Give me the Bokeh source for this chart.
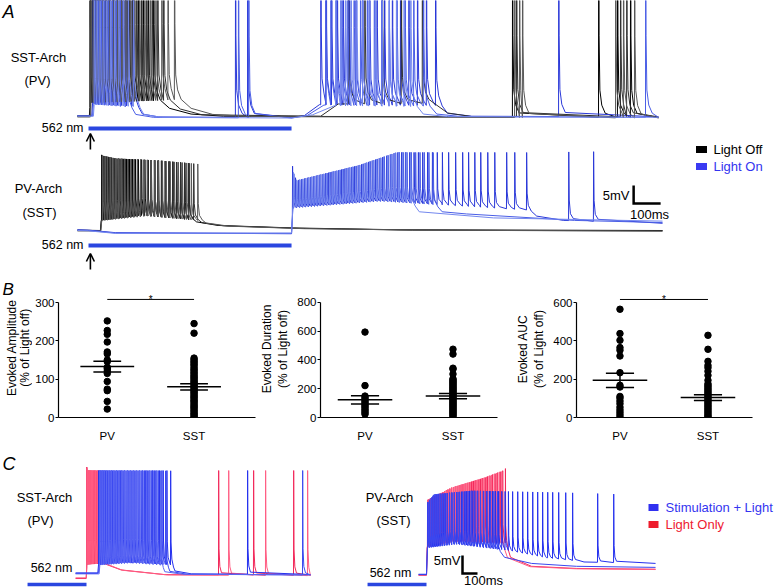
import numpy as np
from bokeh.plotting import figure
from bokeh.models import Range1d, Arrow, OpenHead, FixedTicker
from bokeh.layouts import column, row
from bokeh.embed import file_html
from bokeh.resources import INLINE
from bokeh.core.properties import value

FONT = "Liberation Sans"
BLACKS = ["#000000", "#2e2e2e", "#585858"]
BLUES = ["#2a38d8", "#4a5ee6", "#7387ee"]
CBLUES = ["#2430ee", "#3a48f0", "#5a66f2"]
CREDS = ["#f2285a", "#ff5c82"]
BAR = "#2a46e0"
TXT_BLUE = "#3434f0"
TXT_RED = "#ee2030"

# ---------------- panel A data (time in ms from light onset, Vm in mV) ----------------
A_LIGHT = [0, 752]
A_STIM = 7
A_T = [-41, 2111]

# SST-Arch (PV): light off (black) sweeps
top_off_spikes = [
    [5, 13, 22, 32, 43, 55, 67, 80, 93, 107, 121, 136, 151, 167, 184, 202, 221, 241,
     1570, 1889, 1959, 2007],
    [7, 16, 26, 37, 49, 61, 74, 87, 101, 115, 130, 145, 161, 178, 196, 215, 235, 256, 278,
     962, 1023, 1088, 1158, 1236, 1585, 1970, 1993],
    [9, 19, 30, 41, 53, 66, 79, 93, 107, 122, 138, 154, 171, 189, 208, 228, 249, 271, 294, 318,
     1578, 1596, 1607, 1952, 1981, 2022],
]
top_off_base_t = [
    [-41, 3, 6, 241, 300, 380, 500, 1560, 2111],
    [-41, 5, 8, 278, 340, 420, 860, 925, 1280, 1330, 1420, 2111],
    [-41, 7, 10, 318, 380, 460, 600, 2111],
]
top_off_base_v = [
    [-65.3, -65.3, -61.5, -60.9, -63.0, -64.6, -65.2, -65.4, -65.6],
    [-65.1, -65.1, -61.4, -60.8, -63.2, -64.8, -65.2, -61.8, -61.6, -64.3, -65.3, -65.4],
    [-65.4, -65.4, -61.6, -60.6, -63.0, -64.7, -65.3, -65.7],
]
# SST-Arch (PV): light on (blue) sweeps
top_on_spikes = [
    [15, 23, 32, 42, 53, 65, 78, 92, 107, 123, 141, 161, 544, 589,
     860, 880, 900, 921, 943, 966, 990, 1015, 1041, 1068, 1096, 1125, 1155, 1186, 1218, 1251, 1285, 1741],
    [18, 27, 37, 48, 60, 73, 87, 102, 118, 136, 555, 593,
     878, 897, 917, 938, 960, 983, 1007, 1032, 1058, 1085, 1113, 1142, 1172, 1204, 1240, 2063],
    [21, 31, 42, 54, 67, 81, 96, 112, 129, 147, 166,
     915, 933, 952, 972, 993, 1015, 1038, 1062, 1087, 1113, 1140, 1168, 1193],
]
top_on_base_t = [
    [-41, 12, 15, 161, 200, 260, 752, 800, 855, 1285, 1330, 1420, 2111],
    [-41, 15, 18, 136, 175, 240, 752, 810, 872, 1240, 1290, 1380, 2111],
    [-41, 18, 21, 166, 205, 270, 752, 830, 910, 1193, 1240, 1330, 2111],
]
top_on_base_v = [
    [-65.0, -65.0, -61.8, -62.4, -64.6, -65.4, -65.6, -65.0, -62.0, -62.2, -64.4, -65.2, -65.4],
    [-65.1, -65.1, -61.9, -62.6, -64.7, -65.5, -65.7, -65.0, -62.1, -62.4, -64.6, -65.3, -65.5],
    [-65.2, -65.2, -62.0, -62.5, -64.7, -65.5, -65.7, -64.8, -62.3, -62.5, -64.6, -65.3, -65.5],
]
top_peak_t = [-41, 2111]
top_peak_v = [10, 10]

# PV-Arch (SST): light off (black)
bot_T = [-41, 2126]
bot_off_spikes = [
    [48, 56, 64, 73, 82, 91, 100, 110, 120, 130, 140, 151, 162, 173, 184, 196, 208, 220, 232, 245,
     258, 271, 284, 298, 312, 326, 341, 356, 371],
    [50, 58, 67, 76, 85, 95, 105, 115, 125, 136, 147, 158, 169, 181, 193, 205, 217, 230, 243, 256,
     269, 283, 297, 311, 325, 340, 355, 371, 389],
    [52, 61, 70, 80, 90, 100, 111, 122, 133, 144, 156, 168, 180, 192, 205, 218, 231, 245, 259, 273,
     287, 302, 317, 332, 347, 363, 380, 404],
]
bot_off_base_t = [
    [-41, 44, 47, 200, 371, 400, 480, 760, 1150, 2126],
    [-41, 45, 48, 210, 389, 420, 500, 780, 1200, 2126],
    [-41, 46, 49, 220, 404, 435, 520, 800, 1250, 2126],
]
bot_off_base_v = [
    [-64.9, -65.0, -62.2, -60.8, -62.0, -62.6, -63.6, -64.3, -64.8, -65.0],
    [-65.1, -65.1, -62.2, -60.9, -62.1, -62.8, -63.7, -64.4, -64.9, -65.1],
    [-65.0, -65.0, -62.3, -61.0, -62.2, -62.9, -63.8, -64.5, -64.9, -65.2],
]
bot_off_peak_t = [44, 50, 100, 250, 404]
bot_off_peak_v = [-43.6, -44.2, -45.0, -45.5, -46.5]
# PV-Arch (SST): light on (blue)
bot_on_spikes = [
    [755, 766, 777, 788, 799, 810, 821, 832, 843, 854, 865, 877, 889, 901, 913, 925, 937, 949, 961,
     973, 985, 998, 1011, 1024, 1037, 1050, 1063, 1076, 1089, 1103, 1117, 1131, 1145, 1159, 1173,
     1189, 1205, 1221, 1237, 1255, 1273, 1291, 1310, 1333, 1359, 1385, 1407, 1430, 1452, 1478,
     1504, 1548, 1578, 1622, 1778, 1870],
    [760, 771, 782, 793, 804, 815, 826, 837, 848, 859, 871, 883, 895, 907, 919, 931, 943, 955, 967,
     979, 991, 1004, 1017, 1030, 1043, 1056, 1069, 1082, 1095, 1109, 1123, 1137, 1151, 1165, 1179,
     1195, 1211, 1227, 1243, 1260, 1276],
    [758, 769, 780, 791, 802, 813, 824, 835, 846, 857, 868, 880, 892, 904, 916, 928, 940, 952, 964,
     976, 988, 1001, 1014, 1027, 1040, 1053, 1066, 1079, 1092, 1106, 1120, 1134, 1148, 1162, 1176, 1192],
]
bot_on_base_t = [
    [-41, 0, 100, 752, 757, 1080, 1340, 1622, 1660, 1760, 2126],
    [-41, 0, 100, 752, 757, 1080, 1276, 1310, 1400, 1800, 2126],
    [-41, 0, 100, 752, 757, 1080, 1192, 1225, 1500, 2126],
]
bot_on_base_v = [
    [-64.8, -64.9, -65.6, -65.9, -58.6, -56.7, -58.0, -59.3, -61.0, -62.2, -63.0],
    [-64.9, -65.0, -65.7, -65.8, -58.8, -56.9, -57.8, -59.8, -60.4, -62.2, -62.8],
    [-65.0, -65.1, -65.8, -65.7, -58.5, -56.5, -57.2, -59.8, -61.5, -62.4],
]
bot_on_peak_t = [755, 770, 1000, 1140, 1622, 2000]
bot_on_peak_v = [-48.3, -51.1, -46.9, -43.3, -43.3, -43.0]
A_SCALEBAR = (2019, -57.5)   # corner of the 5 mV / 100 ms bar (bottom traces)

# ---------------- panel B data (% of light off) ----------------
groups = ["PV", "SST"]
amp_pv = [252, 227, 217, 197, 171, 166, 150, 146, 131, 127, 121, 115, 94, 74, 70, 42, 22]
amp_sst = [245, 220, 155, 151, 147, 143, 139, 135, 130, 126, 122, 118, 114, 110, 106, 103, 99, 95,
           92, 88, 85, 81, 78, 74, 71, 67, 64, 60, 56, 53, 49, 45, 42, 38, 34, 30, 27, 23, 19, 15,
           11, 8, 4, 1]
amp_mean = [133, 80]
amp_sem = [14, 8]
dur_pv = [594, 222, 149, 137, 126, 114, 103, 91, 80, 69, 57, 46, 34, 23]
dur_sst = [475, 441, 343, 336, 302, 270, 262, 254, 246, 238, 230, 222, 214, 206, 198, 190, 182,
           174, 166, 158, 150, 142, 134, 126, 118, 110, 102, 94, 86, 78, 70, 62, 54, 46, 38, 30,
           22, 14, 6]
dur_mean = [123, 149]
dur_sem = [29, 18]
auc_pv = [565, 438, 403, 365, 351, 321, 234, 168, 159, 110, 101, 86, 72, 54, 40, 28, 16, 5]
auc_sst = [429, 356, 293, 272, 260, 241, 220, 194, 176, 168, 160, 152, 144, 136, 128, 120, 112,
           104, 96, 88, 80, 72, 64, 56, 48, 40, 32, 24, 16, 8, 2]
auc_mean = [194, 104]
auc_sem = [37, 15]
amp_sig = 308
auc_sig = 616

# ---------------- panel C data (ms from light offset) ----------------
C_LIGHT = [-393, 0]
CL_T = [-73, 1493]
cl_on_spikes = [  # Light Only (red)
    [1, 7, 13, 20, 27, 35, 44, 53, 63, 74, 880, 1113, 1380],
    [3, 9, 16, 23, 31, 40, 49, 59, 70, 81, 947, 1193, 1473],
]
cl_on_base_t = [[-73, -2, 2, 85, 230, 520, 1493], [-73, -2, 4, 90, 240, 540, 1493]]
cl_on_base_v = [[-66.4, -66.4, -62.5, -62.3, -64.0, -65.3, -65.5],
                [-66.2, -66.2, -62.4, -62.2, -64.1, -65.4, -65.6]]
cl_stim_spikes = [  # Stimulation + Light (blue)
    [80, 93, 106, 120, 135, 150, 166, 182, 199, 216, 234, 252, 271, 290, 310, 330, 351, 372, 394,
     416, 439, 462, 486, 510, 535, 560, 1073],
    [85, 98, 112, 126, 141, 157, 173, 190, 207, 225, 243, 262, 281, 301, 321, 342, 363, 385, 407,
     430, 453, 477, 501, 526, 1440],
    [89, 103, 117, 132, 148, 164, 181, 198, 216, 234, 253, 272, 292, 312, 333, 354, 376, 398, 421,
     444, 468, 492],
]
cl_stim_base_t = [[-73, 75, 80, 300, 560, 590, 700, 1493],
                  [-73, 80, 85, 300, 526, 556, 670, 1493],
                  [-73, 84, 89, 300, 492, 522, 640, 1493]]
cl_stim_base_v = [[-65.0, -65.0, -62.6, -62.0, -62.6, -64.3, -65.1, -65.3],
                  [-64.8, -64.8, -62.5, -61.9, -62.5, -64.4, -65.2, -65.4],
                  [-65.1, -65.1, -62.7, -62.1, -62.7, -64.5, -65.2, -65.4]]
cl_peak_t = [-73, 1493]
cl_peak_v = [-36.4, -36.4]

CR_T = [-53, 1527]
cr_on_spikes = [
    [6, 14, 22, 31, 40, 49, 58, 68, 78, 88, 98, 109, 120, 131, 142, 154, 166, 178, 190, 203, 216,
     229, 242, 256, 270, 284, 298, 313, 328, 343, 358, 374, 390, 406, 422, 439, 456, 473, 490, 507, 525],
    [8, 17, 26, 35, 45, 55, 65, 75, 86, 97, 108, 119, 131, 143, 155, 167, 180, 193, 206, 219, 233,
     247, 261, 275, 290, 305, 320, 335, 351, 367, 383, 399, 416, 433, 450, 467, 484, 501],
]
cr_on_base_t = [[-53, 0, 5, 200, 525, 560, 700, 1000, 1527], [-53, 0, 5, 200, 501, 540, 690, 1000, 1527]]
cr_on_base_v = [[-65.5, -65.5, -57.5, -56.0, -56.5, -60.5, -63.0, -63.6, -63.8],
                [-65.4, -65.4, -57.6, -56.2, -56.7, -60.6, -63.1, -63.7, -63.9]]
cr_on_peak_t = [0, 170, 390, 510, 530]
cr_on_peak_v = [-44.7, -41.1, -38.3, -36.4, -35.5]
cr_stim_spikes = [
    [7, 18, 30, 42, 55, 68, 81, 95, 109, 123, 138, 153, 168, 184, 200, 216, 233, 250, 267, 285, 303,
     321, 340, 359, 378, 398, 418, 438, 459, 480, 501, 523, 545, 573, 607, 640, 673, 707, 740, 773,
     807, 840, 880, 927, 973, 1140, 1247],
    [9, 21, 34, 47, 61, 75, 90, 105, 120, 136, 152, 168, 185, 202, 220, 238, 257, 276, 296, 316,
     337, 358, 380, 402, 425, 448, 472],
]
cr_stim_base_t = [[-53, 0, 6, 200, 550, 800, 980, 1050, 1527], [-53, 0, 6, 200, 472, 520, 700, 1000, 1527]]
cr_stim_base_v = [[-65.3, -65.3, -57.8, -56.7, -58.6, -60.6, -61.4, -61.8, -62.2],
                  [-65.2, -65.2, -57.9, -56.9, -58.3, -60.5, -62.2, -63.0, -63.3]]
cr_stim_peak_t = [0, 50, 300, 900, 1300]
cr_stim_peak_v = [-45.6, -43.0, -42.0, -42.5, -43.0]
C_SCALEBAR = (240, -65.0)


def trace(t_span, bt, bv, spikes, pt, pv, shape):
    """Polyline: baseline through read breakpoints, one spike waveform at each spike time."""
    t0, t1 = t_span
    bt = np.asarray(bt, float)
    bv = np.asarray(bv, float)

    def base(t):
        return float(np.interp(t, bt, bv))

    xs, ys = [t0], [base(t0)]

    def add_base(a, b):
        for t in bt:
            if a < t < b:
                xs.append(float(t))
                ys.append(base(t))

    cur = t0
    sp = sorted(spikes)
    for i, s in enumerate(sp):
        nxt = sp[i + 1] if i + 1 < len(sp) else t1
        add_base(cur, s)
        b = base(s)
        pk = float(np.interp(s, pt, pv))
        last = s
        for dt, f in shape:
            tt = s + dt
            if dt > 0 and tt >= nxt:
                break
            xs.append(tt)
            ys.append(base(tt) + f * (pk - b))
            last = tt
        cur = last
    add_base(cur, t1)
    xs.append(t1)
    ys.append(base(t1))
    return np.array(xs), np.array(ys)


def txt(p, x, y, s, size="13px", align="center", color="black", style="normal",
        baseline="middle", angle=0.0):
    p.text(x=[x], y=[y], text=[s], text_font=value(FONT), text_font_size=size, angle=angle,
           text_align=align, text_baseline=baseline, text_color=color, text_font_style=style)


def blank(p):
    p.outline_line_color = None
    p.grid.visible = False


# ================= Panel A =================
A_W, A_H = 775, 280
def ax(px): return (px - 88) * 100 / 27.0
def ay(py): return -py / 3.6
OFF_TOP = ay(115) + 65
OFF_BOT = ay(230) + 65

pA = figure(width=A_W, height=A_H, x_range=Range1d(ax(0), ax(A_W)), y_range=Range1d(ay(A_H), ay(0)),
            x_axis_location=None, y_axis_location=None, min_border=0,
            output_backend="svg", toolbar_location=None)
blank(pA)

shape_top = [(0, 0), (0.7, 1), (2, 0.3), (5, 0.1), (12, 0.045), (25, 0.015)]
shape_bot = [(0, 0), (0.8, 1), (2.5, 0.3), (7, 0.1), (18, 0.03)]
for i in range(3):
    x, y = trace(A_T, top_off_base_t[i], top_off_base_v[i], top_off_spikes[i], top_peak_t, top_peak_v, shape_top)
    pA.line(x, y + OFF_TOP, line_color=BLACKS[i], line_width=1)
    x, y = trace(A_T, top_on_base_t[i], top_on_base_v[i], top_on_spikes[i], top_peak_t, top_peak_v, shape_top)
    pA.line(x, y + OFF_TOP, line_color=BLUES[i], line_width=1)
for i in range(3):
    x, y = trace(bot_T, bot_off_base_t[i], bot_off_base_v[i], bot_off_spikes[i], bot_off_peak_t, bot_off_peak_v, shape_bot)
    pA.line(x, y + OFF_BOT, line_color=BLACKS[i], line_width=1)
for i in range(3):
    x, y = trace(bot_T, bot_on_base_t[i], bot_on_base_v[i], bot_on_spikes[i], bot_on_peak_t, bot_on_peak_v, shape_bot)
    pA.line(x, y + OFF_BOT, line_color=BLUES[i], line_width=1)

for yb in (ay(128), ay(245)):
    pA.segment(x0=[A_LIGHT[0]], y0=[yb], x1=[A_LIGHT[1]], y1=[yb], line_width=4, line_color=BAR, line_cap="butt")
for y0, y1 in ((ay(149), ay(133)), (ay(269), ay(253))):
    pA.add_layout(Arrow(end=OpenHead(size=8, line_width=1.6), x_start=A_STIM, y_start=y0,
                        x_end=A_STIM, y_end=y1, line_width=1.6))

sbx, sbv = A_SCALEBAR
pA.line([sbx, sbx, sbx + 100], [sbv + 5 + OFF_BOT, sbv + OFF_BOT, sbv + OFF_BOT],
        line_width=2.5, line_color="black", line_join="miter")
txt(pA, ax(629), ay(195), "5mV", align="right")
txt(pA, ax(649), ay(214), "100ms")

txt(pA, ax(2), ay(11), "A", size="18px", align="left", style="italic")
txt(pA, ax(38), ay(57), "SST-Arch")
txt(pA, ax(37), ay(80), "(PV)")
txt(pA, ax(83), ay(127), "562 nm", size="12.5px", align="right")
txt(pA, ax(38), ay(188), "PV-Arch")
txt(pA, ax(39), ay(212), "(SST)")
txt(pA, ax(83), ay(244), "562 nm", size="12.5px", align="right")

pA.rect(x=[ax(701), ax(701)], y=[ay(149), ay(166)], width=11, height=7, width_units="screen",
        height_units="screen", fill_color=["black", "#3a3af2"], line_color=None)
txt(pA, ax(713), ay(149), "Light Off", align="left")
txt(pA, ax(713), ay(166), "Light On", align="left", color=TXT_BLUE)


# ================= Panel B =================
B_H, B_TOP = 165, 280
LBL_W = 32

# narrow text column on the left: panel letter and the first y-axis title
pL = figure(width=LBL_W, height=B_H, x_range=Range1d(0, LBL_W), y_range=Range1d(B_H, 0),
            x_axis_location=None, y_axis_location=None, min_border=0,
            output_backend="svg", toolbar_location=None)
blank(pL)
txt(pL, 2, 291 - B_TOP, "B", size="17px", align="left", style="italic")
txt(pL, 11, 361 - B_TOP, "Evoked Amplitude", size="12px", angle=np.pi / 2)
txt(pL, 24, 361 - B_TOP, "(% of Light off)", size="12px", angle=np.pi / 2)


def bplot(width, left, right, xr, ytop, ticks, pv, sst, means, sems, ylabel=None, sig=None):
    p = figure(width=width, height=B_H, x_range=Range1d(*xr), y_range=Range1d(0, ytop),
               min_border_left=left, min_border_right=right, min_border_top=0, min_border_bottom=28,
               output_backend="svg", toolbar_location=None)
    blank(p)
    p.yaxis.ticker = FixedTicker(ticks=ticks)
    p.yaxis.bounds = (0, ticks[-1])
    p.xaxis.ticker = FixedTicker(ticks=[1, 2])
    p.xaxis.major_label_overrides = {1: groups[0], 2: groups[1]}
    for a in (p.xaxis[0], p.yaxis[0]):
        a.axis_line_color = "black"
        a.axis_line_width = 1.2
        a.major_tick_line_color = "black"
        a.minor_tick_line_color = None
        a.major_label_text_font = FONT
        a.major_label_text_font_size = "11.5px"
        a.major_label_text_color = "black"
        a.major_tick_in = 0
    p.yaxis.major_tick_out = 3
    p.yaxis.major_label_standoff = 1
    p.xaxis.major_tick_out = 0
    p.xaxis.major_label_standoff = 12
    if ylabel:
        p.yaxis.axis_label = ylabel
        p.yaxis.axis_label_text_font = FONT
        p.yaxis.axis_label_text_font_size = "12px"
        p.yaxis.axis_label_text_font_style = "normal"
        p.yaxis.axis_label_text_color = "black"
        p.yaxis.axis_label_standoff = 4
    p.scatter([1] * len(pv), pv, size=6.5, color="black")
    p.scatter([2] * len(sst), sst, size=6.5, color="black")
    for k, (m, s) in enumerate(zip(means, sems)):
        xc = k + 1
        p.segment(x0=[xc - 0.31, xc - 0.16, xc - 0.16, xc], y0=[m, m + s, m - s, m - s],
                  x1=[xc + 0.31, xc + 0.16, xc + 0.16, xc], y1=[m, m + s, m - s, m + s],
                  line_color="black", line_width=1.5)
    if sig is not None:
        p.segment(x0=[1], y0=[sig], x1=[2], y1=[sig], line_color="black", line_width=1)
        p.text(x=[1.5], y=[sig], text=["*"], text_font=value(FONT), text_font_size="10px",
               text_align="center", text_baseline="alphabetic", text_color="black")
    return p

b1 = bplot(256 - LBL_W, 54 - LBL_W, 1, (0.438, 2.708), 357.4, [0, 100, 200, 300], amp_pv, amp_sst,
           amp_mean, amp_sem, None, amp_sig)
b2 = bplot(256, 62, 15, (0.494, 2.506), 953, [0, 200, 400, 600, 800], dur_pv, dur_sst, dur_mean, dur_sem,
           "Evoked Duration\n(% of Light off)")
b3 = bplot(263, 62, 23, (0.506, 2.506), 715, [0, 200, 400, 600], auc_pv, auc_sst, auc_mean, auc_sem,
           "Evoked AUC\n(% of Light off)", auc_sig)


# ================= Panel C =================
C_W, C_H, C_TOP = 775, 143, 445
def cxr(px): return (px - 426) * 20 / 3.0
def cxl(px): return (px - 86) * 20 / 3.0
def cy(py): return -65 + (573 - (py)) / 3.6

pC = figure(width=C_W, height=C_H, x_range=Range1d(cxr(0), cxr(C_W)),
            y_range=Range1d(cy(C_TOP + C_H), cy(C_TOP)),
            x_axis_location=None, y_axis_location=None, min_border=0,
            output_backend="svg", toolbar_location=None)
pC.extra_x_ranges = {"left": Range1d(cxl(0), cxl(C_W))}
blank(pC)

shape_c = [(0, 0), (1.2, 1), (3.5, 0.25), (9, 0.08), (20, 0.02)]
for i in range(2):
    x, y = trace(CL_T, cl_on_base_t[i], cl_on_base_v[i], cl_on_spikes[i], cl_peak_t, cl_peak_v, shape_c)
    pC.line(x, y, line_color=CREDS[i], line_width=1, x_range_name="left")
for i in range(3):
    x, y = trace(CL_T, cl_stim_base_t[i], cl_stim_base_v[i], cl_stim_spikes[i], cl_peak_t, cl_peak_v, shape_c)
    pC.line(x, y, line_color=CBLUES[i], line_width=1, x_range_name="left")
for i in range(2):
    x, y = trace(CR_T, cr_on_base_t[i], cr_on_base_v[i], cr_on_spikes[i], cr_on_peak_t, cr_on_peak_v, shape_c)
    pC.line(x, y, line_color=CREDS[i], line_width=1)
for i in range(2):
    x, y = trace(CR_T, cr_stim_base_t[i], cr_stim_base_v[i], cr_stim_spikes[i], cr_stim_peak_t, cr_stim_peak_v, shape_c)
    pC.line(x, y, line_color=CBLUES[i], line_width=1)

pC.segment(x0=[C_LIGHT[0]], y0=[cy(584)], x1=[C_LIGHT[1]], y1=[cy(584)], line_width=3.5,
           line_color=BAR, line_cap="butt", x_range_name="left")
pC.segment(x0=[C_LIGHT[0]], y0=[cy(584)], x1=[C_LIGHT[1]], y1=[cy(584)], line_width=3.5,
           line_color=BAR, line_cap="butt")

csx, csv = C_SCALEBAR
pC.line([csx, csx, csx + 100], [csv + 5, csv, csv], line_width=2.5, line_color="black", line_join="miter")
txt(pC, cxr(460), cy(560), "5mV", align="right")
txt(pC, cxr(483), cy(580), "100ms")

txt(pC, cxr(2), cy(463), "C", size="18px", align="left", style="italic")
txt(pC, cxr(44), cy(497), "SST-Arch")
txt(pC, cxr(40), cy(520), "(PV)")
txt(pC, cxr(51), cy(567), "562 nm", size="12.5px")
txt(pC, cxr(389), cy(497), "PV-Arch")
txt(pC, cxr(393), cy(520), "(SST)")
txt(pC, cxr(390), cy(572), "562 nm", size="12.5px")

pC.rect(x=[cxr(653), cxr(653)], y=[cy(507), cy(524)], width=10, height=7, width_units="screen",
        height_units="screen", fill_color=["#3030f0", "#ee1c2c"], line_color=None)
txt(pC, cxr(665), cy(507), "Stimulation + Light", align="left", color=TXT_BLUE)
txt(pC, cxr(665), cy(524), "Light Only", align="left", color=TXT_RED)

layout = column(pA, row(pL, b1, b2, b3), pC)
open("out.html", "w").write(file_html(layout, INLINE))
